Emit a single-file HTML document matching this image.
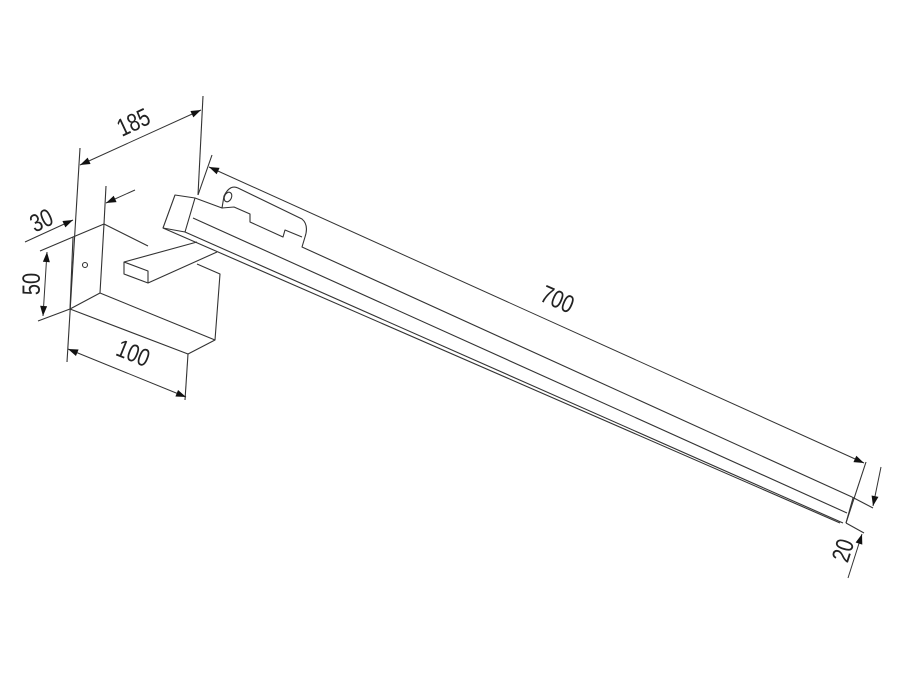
<!DOCTYPE html>
<html><head><style>body{margin:0;background:#fff}svg{display:block}</style></head>
<body>
<svg width="900" height="675" viewBox="0 0 900 675" xmlns="http://www.w3.org/2000/svg">
<defs>
<marker id="a" viewBox="0 0 10 10" refX="10" refY="5" markerWidth="12" markerHeight="10" markerUnits="userSpaceOnUse" orient="auto-start-reverse"><path d="M0,1.5 L10,5 L0,8.5 z" fill="#111"/></marker>
</defs>
<g fill="none" stroke="#333" stroke-width="1.1" stroke-linejoin="round">
<path d="M73,237 L104,224 L100,293 L70,309 Z"/>
<path d="M104,224 L148,246"/>
<path d="M70,309 L188,354 L215,340 L220,274 L197,264"/>
<path d="M100,293 L215,340"/>
<circle cx="85" cy="265" r="2.5"/>
<path d="M197,242 L124,262 L124,274 L148,283 L217,252"/>
<path d="M124,262 L148,271 L148,283"/>
<path d="M163,228 L175,195 L195,198 L185,232 Z"/>
<path d="M195,198 L222,208 L224,196 Q230,184 238,188 L302,219 Q309,225 305,237 L302,247 L852,497"/>
<path d="M222,208 L234,207 L250,214 L250,222 L283,237 L285,230 L302,237"/>
<ellipse cx="228" cy="197" rx="3.5" ry="5" transform="rotate(25 228 197)"/>
<path d="M193,218 L847,513"/>
<path d="M185,232 L843,523"/>
<path d="M163,228 L840,523"/>
<path d="M853,498 L846,523"/>
<path d="M80,148 L67,362"/>
<path d="M203,96 L198,195"/>
<path d="M104,224 L106,186"/>
<path d="M40,251 L73,237"/>
<path d="M38,321 L70,309"/>
<path d="M188,354 L185,400"/>
<path d="M212,155 L198,195"/>
<path d="M866,462 L846,523"/>
<path d="M852,497 L873,508"/>
<path d="M846,523 L864,533"/>
</g>
<g fill="none" stroke="#333" stroke-width="1">
<path d="M80,165 L201,110" marker-start="url(#a)" marker-end="url(#a)"/>
<path d="M135,190 L106,203" marker-end="url(#a)"/>
<path d="M25,242 L73,220" marker-end="url(#a)"/>
<path d="M47,252 L43,316" marker-start="url(#a)" marker-end="url(#a)"/>
<path d="M68,349 L186,397" marker-start="url(#a)" marker-end="url(#a)"/>
<path d="M209,167 L864,463" marker-start="url(#a)" marker-end="url(#a)"/>
<path d="M881,467 L873,506" marker-end="url(#a)"/>
<path d="M848,578 L862,534" marker-end="url(#a)"/>
</g>
<g font-family="Liberation Sans, sans-serif" font-size="25" fill="#222" text-anchor="middle">
<text transform="translate(137,130) rotate(-25) scale(0.8,1)">185</text>
<text transform="translate(45,228) rotate(-25) scale(0.8,1)">30</text>
<text transform="translate(40,284) rotate(-90) scale(0.8,1)">50</text>
<text transform="translate(130,361) rotate(22) scale(0.8,1)">100</text>
<text transform="translate(554,307) rotate(24) scale(0.8,1)">700</text>
<text transform="translate(851,553) rotate(-72) scale(0.8,1)">20</text>
</g>
</svg>
</body></html>
